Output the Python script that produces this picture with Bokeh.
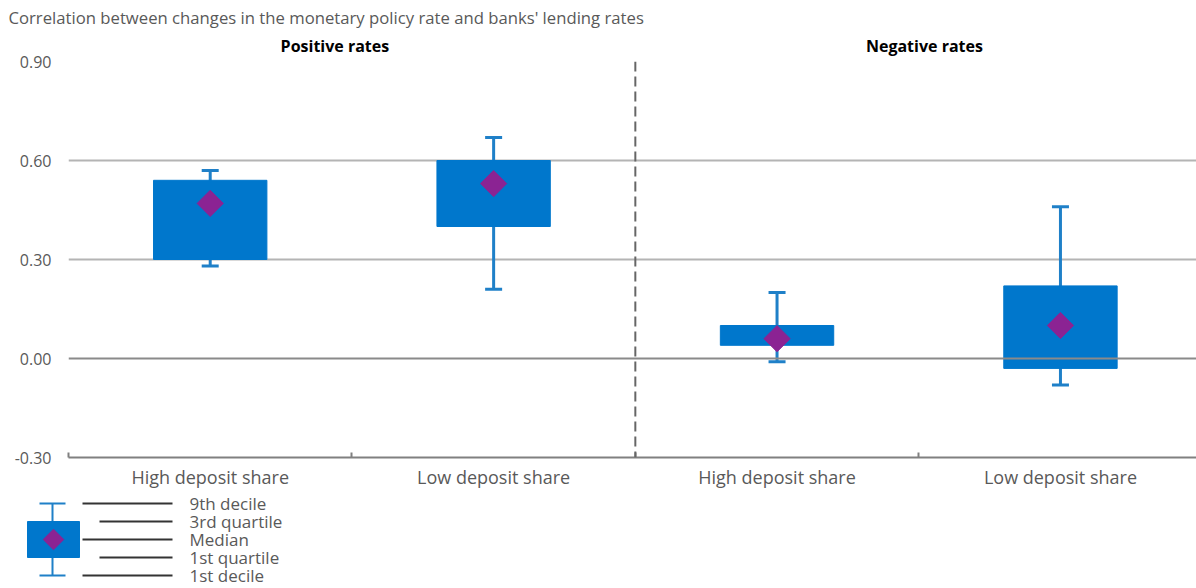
import math
from bokeh.plotting import figure
from bokeh.models import Range1d, FixedTicker, Span, ColumnDataSource, LinearAxis, Title
from bokeh.core.properties import value
from bokeh.embed import file_html
from bokeh.resources import INLINE

# ---- data ----
title_text = "Correlation between changes in the monetary policy rate and banks' lending rates"
groups = ["Positive rates", "Negative rates"]
categories = ["High deposit share", "Low deposit share", "High deposit share", "Low deposit share"]
decile1 = [0.28, 0.21, -0.01, -0.08]
quartile1 = [0.30, 0.40, 0.04, -0.03]
median = [0.47, 0.53, 0.06, 0.10]
quartile3 = [0.54, 0.60, 0.10, 0.22]
decile9 = [0.57, 0.67, 0.20, 0.46]
y_ticks = [-0.30, 0.00, 0.30, 0.60, 0.90]
legend_labels = ["9th decile", "3rd quartile", "Median", "1st quartile", "1st decile"]

FONT = "Open Sans"
GREY_TXT = "#595959"
BOX = "#0077cc"
WHISK = "#1f80c8"
DIAM = "#8b2393"
W = 1196
GROUP_POS = [0.94, 3.02]   # label placement of the two panel headers

pos = [i + 0.5 for i in range(len(categories))]
src = ColumnDataSource(dict(x=pos, d1=decile1, q1=quartile1, med=median, q3=quartile3, d9=decile9,
                            cl=[p - 0.03 for p in pos], cr=[p + 0.03 for p in pos]))

# ---- main chart ----
p = figure(width=W, height=492, output_backend="svg", toolbar_location=None,
           x_range=Range1d(0, 3.98), y_range=Range1d(y_ticks[0], y_ticks[-1]),
           min_border_left=68, min_border_right=0, min_border_top=61, min_border_bottom=35)
p.outline_line_color = None
p.xgrid.grid_line_color = None
p.ygrid.ticker = FixedTicker(ticks=[t for t in y_ticks if t > 0])
p.ygrid.grid_line_color = "#b4b4b4"
p.ygrid.grid_line_width = 2

p.yaxis.ticker = FixedTicker(ticks=y_ticks)
p.yaxis.major_label_overrides = {t: f"{t:.2f}" for t in y_ticks}
p.yaxis.axis_line_color = None
p.yaxis.major_tick_line_color = None
p.yaxis.minor_tick_line_color = None
p.yaxis.major_label_standoff = 11
p.yaxis.major_label_text_font = FONT
p.yaxis.major_label_text_font_size = "16px"
p.yaxis.major_label_text_color = GREY_TXT

p.xaxis.ticker = FixedTicker(ticks=pos, minor_ticks=[0, 1, 2, 3])
p.xaxis.major_label_overrides = {x: c for x, c in zip(pos, categories)}
p.xaxis.axis_line_color = "#808080"
p.xaxis.axis_line_width = 2
p.xaxis.major_tick_line_color = None
p.xaxis.minor_tick_line_color = "#808080"
p.xaxis.minor_tick_line_width = 2
p.xaxis.minor_tick_in = 5
p.xaxis.minor_tick_out = 0
p.xaxis.major_tick_out = 0
p.xaxis.major_tick_in = 0
p.xaxis.major_label_standoff = 7
p.xaxis.major_label_text_font = FONT
p.xaxis.major_label_text_font_size = "18px"
p.xaxis.major_label_text_color = GREY_TXT

# panel headers as an axis above the frame
top_axis = LinearAxis(ticker=FixedTicker(ticks=GROUP_POS),
                      major_label_overrides={x: g for x, g in zip(GROUP_POS, groups)},
                      axis_line_color=None, major_tick_line_color=None, minor_tick_line_color=None,
                      major_tick_out=0, major_tick_in=0, major_label_standoff=5,
                      major_label_text_font=FONT, major_label_text_font_size="16px",
                      major_label_text_font_style="bold", major_label_text_color="#000000")
p.add_layout(top_axis, "above")

p.add_layout(Title(text=title_text, align="left", offset=-60, text_font=FONT,
                   text_font_size="16.7px", text_font_style="normal", text_color=GREY_TXT,
                   standoff=5), "above")

p.add_layout(Span(location=0, dimension="width", line_color="#8a8a8a", line_width=2))
p.add_layout(Span(location=2, dimension="height", line_color="#666666", line_width=2, line_dash="10 5"))

p.segment(x0="x", x1="x", y0="d1", y1="d9", source=src, line_color=WHISK, line_width=3)
p.segment(x0="cl", x1="cr", y0="d1", y1="d1", source=src, line_color=WHISK, line_width=3)
p.segment(x0="cl", x1="cr", y0="d9", y1="d9", source=src, line_color=WHISK, line_width=3)
p.vbar(x="x", width=0.4, bottom="q1", top="q3", source=src, fill_color=BOX, line_color=BOX, line_width=1)
p.scatter(x="x", y="med", source=src, marker="square", angle=math.pi / 4, size=18.5,
          fill_color=DIAM, line_color=DIAM)

# ---- legend key (separate root, so it is not frame-aligned) ----
LH = 96
lg = figure(width=W, height=LH, output_backend="svg", toolbar_location=None,
            x_range=Range1d(0, W), y_range=Range1d(LH, 0),
            x_axis_location=None, y_axis_location=None,
            min_border_left=0, min_border_right=0, min_border_top=0, min_border_bottom=0)
lg.outline_line_color = None
lg.grid.visible = False
ly = [11, 29, 47, 65, 83]
lg.segment(x0=[52], x1=[52], y0=[ly[0]], y1=[ly[4]], line_color=WHISK, line_width=2)
lg.segment(x0=[39, 39], x1=[65, 65], y0=[ly[0], ly[4]], y1=[ly[0], ly[4]], line_color=WHISK, line_width=2)
lg.quad(left=[27], right=[79], top=[ly[1]], bottom=[ly[3]], fill_color=BOX, line_color=BOX)
lg.scatter(x=[53], y=[ly[2]], marker="square", angle=math.pi / 4, size=14.5, fill_color=DIAM, line_color=DIAM)
lg.segment(x0=[82, 99, 82, 99, 82], x1=[172] * 5, y0=ly, y1=ly, line_color="#333333", line_width=2)
lg.text(x=[189] * 5, y=ly, text=legend_labels, text_font=value(FONT), text_font_size="17px",
        text_color=GREY_TXT, text_baseline="middle", text_align="left")

open("out.html", "w").write(file_html([p, lg], INLINE))
